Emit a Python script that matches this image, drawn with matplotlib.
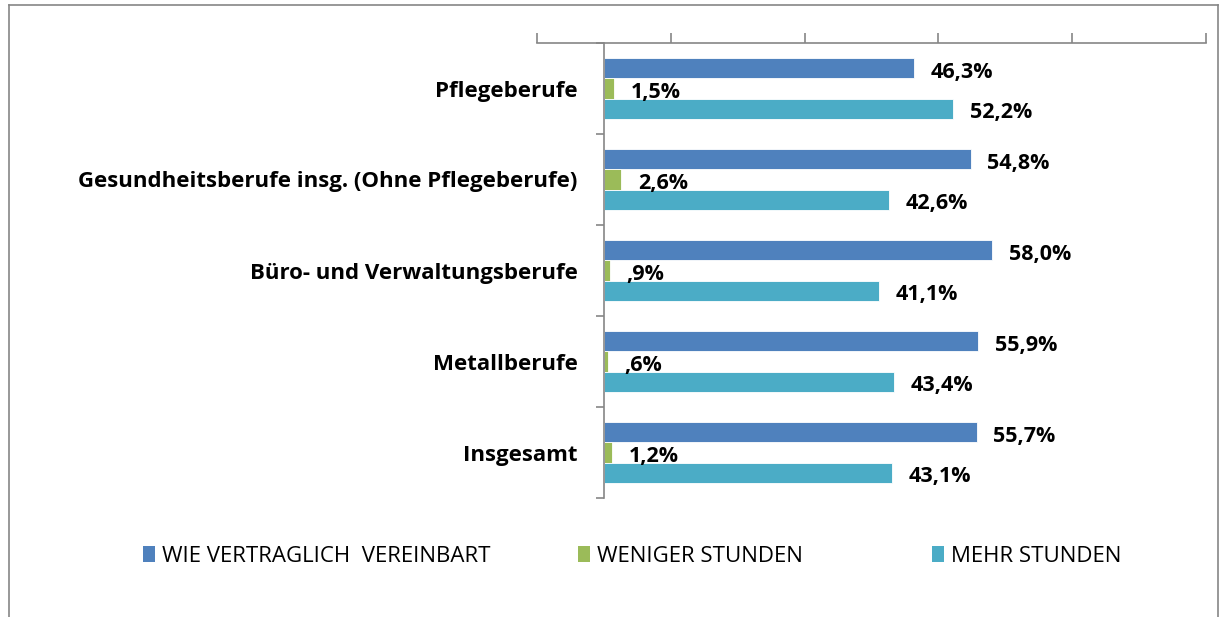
import matplotlib
matplotlib.use("Agg")
import matplotlib.pyplot as plt
from matplotlib.patches import Patch
from matplotlib.lines import Line2D
import numpy as np

categories = ["Pflegeberufe", "Gesundheitsberufe insg. (Ohne Pflegeberufe)",
              "Büro- und Verwaltungsberufe", "Metallberufe", "Insgesamt"]
wie_vereinbart = [46.3, 54.8, 58.0, 55.9, 55.7]
weniger_stunden = [1.5, 2.6, 0.9, 0.6, 1.2]
mehr_stunden = [52.2, 42.6, 41.1, 43.4, 43.1]
series_names = ["WIE VERTRAGLICH  VEREINBART", "WENIGER STUNDEN", "MEHR STUNDEN"]
colors = ["#4F81BD", "#9BBB59", "#4BACC6"]

plt.rcParams['font.family'] = ['Open Sans', 'DejaVu Sans']

fig = plt.figure(figsize=(12.24, 6.17), dpi=100)
ax = fig.add_axes([537/1224, 1-498/617, (1206-537)/1224, (498-43)/617])

y = np.arange(len(categories))
h = 0.22
series = [wie_vereinbart, weniger_stunden, mehr_stunden]
offsets = [-h, 0, h]

def fmt(v):
    s = f"{v:.1f}".replace(".", ",")
    if s.startswith("0"):
        s = s[1:]
    return s + "%"

for vals, off, col, name in zip(series, offsets, colors, series_names):
    bars = ax.barh(y + off, vals, height=h, color=col, edgecolor="white", linewidth=0.6, label=name)
    for b, v in zip(bars, vals):
        ax.text(v + 2.5, b.get_y() + b.get_height()/2 + 0.04, fmt(v), va="center", ha="left",
                fontsize=15.5, fontweight="bold", color="black")

ax.set_xlim(-10, 90)
ax.set_ylim(len(categories) - 0.5, -0.5)

ax.spines['left'].set_position(('data', 0))
ax.spines['bottom'].set_visible(False)
ax.spines['right'].set_visible(False)
for s in ['left', 'top']:
    ax.spines[s].set_color("#868686")
    ax.spines[s].set_linewidth(1.2)

ax.xaxis.set_ticks_position('top')
ax.set_xticks([-10, 10, 30, 50, 70, 90])
ax.tick_params(axis='x', which='major', direction='out', length=7, color="#868686",
               labeltop=False, labelbottom=False, width=1.2)

ax.set_yticks(y)
ax.set_yticklabels(categories, fontsize=16, fontweight="bold")
ax.set_yticks(np.arange(-0.5, len(categories) + 0.5, 1), minor=True)
ax.tick_params(axis='y', which='major', length=0, pad=19)
ax.tick_params(axis='y', which='minor', length=6, color="#868686", width=1.2, direction='out')

legend_x = [143, 578, 932]
for name, col, lx in zip(series_names, colors, legend_x):
    fig.legend([Patch(facecolor=col, edgecolor='none')], [name], loc="center left",
               bbox_to_anchor=(lx/1224, 1-556/617), frameon=False, fontsize=16,
               handlelength=0.55, handleheight=0.7, handletextpad=0.3, borderpad=0, borderaxespad=0)

# border
for xy in [((9/1224, 9/1224), (1-5/617, 0)), ((9/1224, 1218/1224), (1-5/617, 1-5/617)),
           ((1218/1224, 1218/1224), (1-5/617, 0))]:
    fig.add_artist(Line2D(xy[0], xy[1], color="#868686", linewidth=1.2, transform=fig.transFigure))

fig.savefig("out.png", dpi=100, facecolor="white")
